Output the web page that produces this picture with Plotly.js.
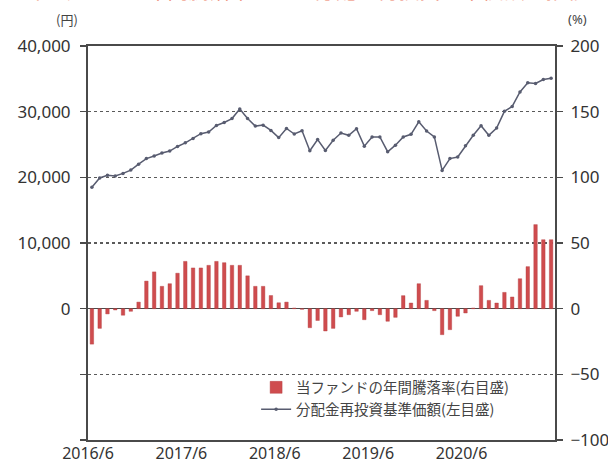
<!DOCTYPE html>
<html>
<head>
<meta charset="utf-8">
<script src="https://cdn.plot.ly/plotly-3.0.1.min.js"></script>
<style>
  html, body { margin: 0; padding: 0; background: #ffffff; overflow: hidden; }
  #wrap { position: relative; width: 608px; height: 462px; overflow: hidden; }
  #chart { width: 608px; height: 462px; }
  #cuttitle {
    position: absolute; left: 0; width: 608px; top: -24px;
    text-align: center; white-space: nowrap;
    font-family: 'Noto Sans CJK JP', sans-serif; font-size: 21px; line-height: 26px;
    color: #ec7a62; z-index: 5; pointer-events: none;
  }
</style>
</head>
<body>
<div id="wrap">
  <div id="cuttitle">当ファンドの年間騰落率および分配金再投資基準価額の推移</div>
  <div id="chart"></div>
</div>
<script>
// Year tick labels (June of each year)
const tickLabels = ['2016/6', '2017/6', '2018/6', '2019/6', '2020/6'];

// Annual return of the fund (%) – right axis, monthly from 2016/6
const annualReturnPct = [
  -27, -15, -4, -1, -5, -2, 5, 21, 28, 17,
  19, 27, 36, 31, 31, 33, 36, 35, 33, 33,
  25, 17, 17, 10, 4.5, 5, 0.5, -0.5, -14.5, -9,
  -17, -15, -6.3, -4.6, -2, -8.4, -1.5, -4.6, -9.6, -6.6,
  9.9, 4.3, 19, 6.3, -1.5, -19.8, -16, -5.8, -3.3, 0.5,
  17.5, 6.3, 4.3, 12.4, 8.9, 22.8, 32, 64, 52.5, 52.5
];

// NAV with dividends reinvested (yen) – left axis, monthly from 2016/6
const navYen = [
  18500, 19900, 20300, 20200, 20600, 21100, 22000, 22850, 23250, 23700,
  24000, 24700, 25250, 25900, 26650, 26900, 27900, 28350, 28950, 30400,
  28950, 27800, 27950, 27150, 26050, 27450, 26600, 27100, 24050, 25750,
  24100, 25650, 26750, 26400, 27400, 24750, 26150, 26150, 23900, 24900,
  26150, 26550, 28450, 27050, 26150, 21050, 22850, 23100, 24800, 26400,
  27850, 26400, 27500, 30050, 30800, 33000, 34400, 34300, 34900, 35100
];

const barName = '当ファンドの年間騰落率(右目盛)';
const lineName = '分配金再投資基準価額(左目盛)';

// month index (month centre), 0 = 2016/6
const monthX = annualReturnPct.map((_, i) => i + 0.5);
const yearTickVals = tickLabels.map((_, k) => k * 12);

const font = 'Noto Sans, Noto Sans CJK JP, sans-serif';
const axisCol = '#4a4a4a';

const traces = [
  {
    type: 'bar',
    name: barName,
    x: monthX,
    y: annualReturnPct,
    xaxis: 'x',
    yaxis: 'y2',
    width: 0.45,
    marker: { color: '#cf4c4e', line: { color: '#b33c3f', width: 0.4 } }
  },
  {
    type: 'scatter',
    mode: 'lines+markers',
    name: lineName,
    x: monthX,
    y: navYen,
    xaxis: 'x',
    yaxis: 'y',
    line: { color: '#585c70', width: 1.5 },
    marker: { color: '#585c70', size: 3.5 }
  }
];

const layout = {
  width: 608,
  height: 462,
  margin: { l: 88, r: 53, t: 46, b: 22 },
  paper_bgcolor: '#ffffff',
  plot_bgcolor: '#ffffff',
  font: { family: font, size: 17, color: '#333333' },
  showlegend: true,
  legend: {
    x: 0.36, y: 0.174, xanchor: 'left', yanchor: 'top',
    bgcolor: 'rgba(0,0,0,0)',
    font: { family: 'Noto Sans CJK JP, sans-serif', size: 14.5, color: '#444444' },
    tracegroupgap: 0,
    itemwidth: 30
  },
  bargap: 0,
  xaxis: {
    range: [0, 60],
    tickmode: 'array',
    tickvals: yearTickVals,
    ticktext: tickLabels,
    ticks: '',
    showgrid: false,
    zeroline: false,
    showline: true,
    mirror: true,
    linecolor: axisCol,
    linewidth: 2,
    ticklabelstandoff: -2,
    tickfont: { family: font, size: 16, color: '#333333' }
  },
  xaxis2: {
    overlaying: 'x',
    anchor: 'free',
    position: 1 / 3,
    range: [0, 60],
    tickmode: 'array',
    tickvals: yearTickVals,
    ticks: 'outside',
    ticklen: 5,
    tickwidth: 1.5,
    tickcolor: axisCol,
    showticklabels: false,
    showgrid: false,
    zeroline: false,
    showline: false
  },
  yaxis: {
    range: [-20000, 40000],
    tickmode: 'array',
    tickvals: [-20000, -10000, 0, 10000, 20000, 30000, 40000],
    ticktext: ['', '', '0', '10,000', '20,000', '30,000', '40,000'],
    ticks: 'outside',
    ticklen: 6,
    tickwidth: 1.5,
    tickcolor: axisCol,
    ticklabelstandoff: 6,
    showline: true,
    linecolor: axisCol,
    linewidth: 2,
    showgrid: true,
    gridcolor: '#5a5a5a',
    gridwidth: 1.3,
    griddash: 'dot',
    zeroline: true,
    zerolinecolor: axisCol,
    zerolinewidth: 1.6,
    tickfont: { family: font, size: 17, color: '#333333' }
  },
  yaxis2: {
    overlaying: 'y',
    side: 'right',
    range: [-100, 200],
    tickmode: 'array',
    tickvals: [-100, -50, 0, 50, 100, 150, 200],
    ticks: 'outside',
    ticklen: 6,
    tickwidth: 1.5,
    tickcolor: axisCol,
    ticklabelstandoff: 4,
    showline: true,
    linecolor: axisCol,
    linewidth: 2,
    showgrid: false,
    zeroline: false,
    tickfont: { family: font, size: 17, color: '#333333' }
  },
  annotations: [
    {
      text: '(円)', xref: 'paper', yref: 'paper',
      x: -0.045, y: 1.068, xanchor: 'center', yanchor: 'middle',
      showarrow: false,
      font: { family: 'Noto Sans CJK JP, sans-serif', size: 13, color: '#444444' }
    },
    {
      text: '(%)', xref: 'paper', yref: 'paper',
      x: 1.049, y: 1.068, xanchor: 'center', yanchor: 'middle',
      showarrow: false,
      font: { family: font, size: 13, color: '#444444' }
    }
  ]
};

Plotly.newPlot('chart', traces, layout, { displayModeBar: false, staticPlot: true });
</script>
</body>
</html>
